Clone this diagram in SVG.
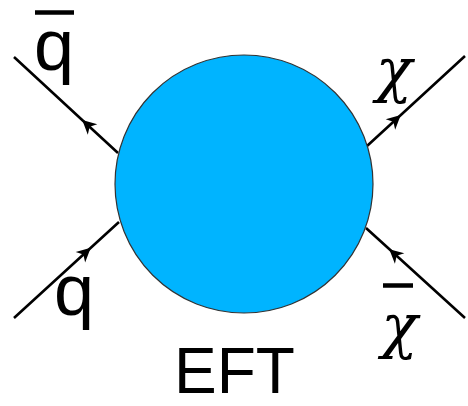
<svg xmlns="http://www.w3.org/2000/svg" width="468" height="406" viewBox="0 0 468 406">
<style>
.leg{fill:none;stroke:#000;stroke-width:2.6;marker-mid:url(#arr)}
.lbl{font-family:"Liberation Sans",Arial,sans-serif;fill:#000}
.chi{font-family:"DejaVu Serif","Liberation Serif",serif;font-style:italic;fill:#000}
.bar{stroke:#000;stroke-width:4.5}
</style>
<defs>
<marker id="arr" markerUnits="userSpaceOnUse" markerWidth="20" markerHeight="20" viewBox="-16 -10 20 20" refX="0" refY="0" orient="auto">
<path d="M1,0 L-13,-7 L-9,0 L-13,7 Z" fill="#000"/>
</marker>
</defs>
<g id="connectors">
<path class="leg" d="M118,153 L83,120.7 L14,57"/>
<path class="leg" d="M367,146 L400,115.7 L465,56"/>
<path class="leg" d="M14,318 L90,248.5 L119,222"/>
<path class="leg" d="M465,318 L390,249.8 L366,228"/>
</g>
<g id="blob">
<circle cx="244" cy="184" r="129" fill="#00b4ff" stroke="#333" stroke-width="1.2"/>
</g>
<g id="label-qbar">
<line class="bar" x1="35" y1="12.5" x2="74" y2="12.5"/>
<text class="lbl" x="34" y="70" font-size="72">q</text>
</g>
<g id="label-q">
<text class="lbl" x="54" y="315" font-size="72">q</text>
</g>
<g id="label-chi">
<text class="chi" x="394" y="91" font-size="60" text-anchor="middle">χ</text>
</g>
<g id="label-chibar">
<line class="bar" x1="383" y1="285.5" x2="413" y2="285.5"/>
<text class="chi" x="399.5" y="347" font-size="60" text-anchor="middle">χ</text>
</g>
<g id="label-eft">
<text class="lbl" x="234.5" y="393" font-size="64" text-anchor="middle">EFT</text>
</g>
</svg>
